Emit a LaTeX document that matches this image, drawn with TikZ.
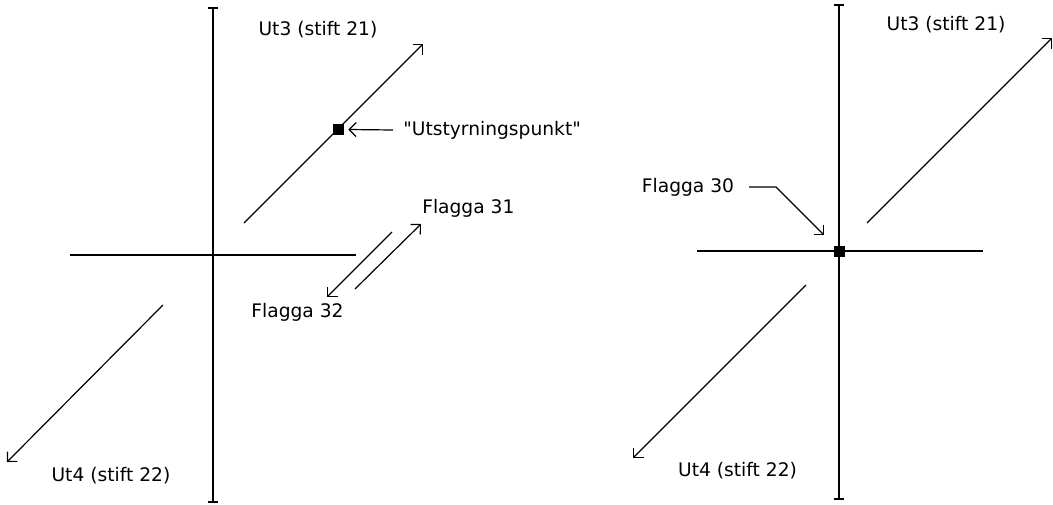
\documentclass[tikz,border=0pt]{standalone}
\usepackage{fontspec}
\setmainfont{DejaVu Sans}[Ligatures=TeXOff]
\usetikzlibrary{arrows.meta}
\begin{document}
\begin{tikzpicture}[x=0.75pt,y=-0.75pt,
  axisline/.style={line width=1.5pt},
  tickaxis/.style={line width=1.5pt,{Bar[width=7.5pt]}-{Bar[width=7.5pt]}},
  diag/.style={line width=0.9pt,-{Straight Barb[length=5.25pt,width=10.5pt]}},
  lbl/.style={inner sep=0pt,font=\fontsize{14}{16}\selectfont},
  dot/.style={fill=black,minimum size=8.25pt,inner sep=0pt}]
\useasboundingbox (0,0) rectangle (1053,504);
% ---------------- left diagram ----------------
\coordinate (LvT) at (213,7);
\coordinate (LvB) at (213,503);
\coordinate (LhL) at (70,255);
\coordinate (LhR) at (356,255);
\draw[tickaxis] (LvT) -- (LvB);
\draw[axisline] (LhL) -- (LhR);
\coordinate (L3s) at (244,223);
\coordinate (L3e) at (423,44);
\draw[diag] (L3s) -- (L3e);
\node[dot] (Lsq) at (338.5,129.5) {};
\node[lbl] (Lu3) at (318,30) {Ut3 (stift 21)};
\node[lbl,anchor=west] (Lpkt) at (403,130) {"Utstyrningspunkt"};
\coordinate (Lpa) at (393,130);
\draw[diag] (Lpa) -- ([xshift=3pt]Lsq.east);
\node[lbl,anchor=west] (Lf31) at (422,208) {Flagga 31};
\coordinate (Lf31s) at (355,289);
\coordinate (Lf31e) at (421,224);
\draw[diag] (Lf31s) -- (Lf31e);
\node[lbl] (Lf32) at (297.5,312) {Flagga 32};
\coordinate (Lf32s) at (392,232);
\coordinate (Lf32e) at (327,297);
\draw[diag] (Lf32s) -- (Lf32e);
\coordinate (L4s) at (163,305);
\coordinate (L4e) at (7,462);
\draw[diag] (L4s) -- (L4e);
\node[lbl] (Lu4) at (111,476) {Ut4 (stift 22)};
% ---------------- right diagram ----------------
\coordinate (RvT) at (839,3.5);
\coordinate (RvB) at (839,500);
\coordinate (RhL) at (697,251);
\coordinate (RhR) at (983,251);
\draw[tickaxis] (RvT) -- (RvB);
\draw[axisline] (RhL) -- (RhR);
\node[dot] (Rsq) at (839,251) {};
\coordinate (R3s) at (867,223);
\coordinate (R3e) at (1052,38);
\draw[diag] (R3s) -- (R3e);
\node[lbl] (Ru3) at (946,25) {Ut3 (stift 21)};
\node[lbl] (Rf30) at (688,187) {Flagga 30};
\coordinate (Rf30a) at (749,187);
\coordinate (Rf30b) at (776,187);
\coordinate (Rf30e) at (824,235);
\draw[diag] (Rf30a) -- (Rf30b) -- (Rf30e);
\coordinate (R4s) at (806,285);
\coordinate (R4e) at (633,458);
\draw[diag] (R4s) -- (R4e);
\node[lbl] (Ru4) at (737.5,471) {Ut4 (stift 22)};
\end{tikzpicture}
\end{document}
